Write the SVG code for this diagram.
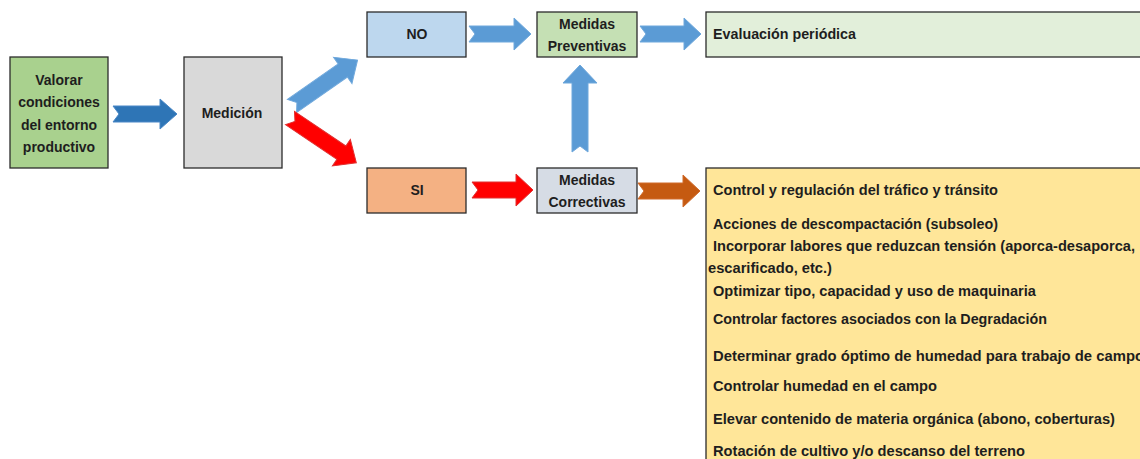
<svg xmlns="http://www.w3.org/2000/svg" width="1140" height="459" viewBox="0 0 1140 459">
<style>
.box{stroke:#2b2b2b;stroke-width:1.3}
.t{font-family:"Liberation Sans",Arial,sans-serif;font-weight:bold;font-size:14px;fill:#1e1e1e}
.c{text-anchor:middle}
.ab{fill:#5b9bd5;stroke:#6fa8dc;stroke-width:1}
.ad{fill:#2e75b6;stroke:#4a88c7;stroke-width:1}
.ar{fill:#ff0000;stroke:#e03030;stroke-width:1}
.ao{fill:#c55a11;stroke:#d06a2a;stroke-width:1}
</style>
<defs>
<polygon id="diag" points="0,-8 62,-8 62,-16 80,0 62,16 62,8 0,8 6,0"/>
</defs>
<rect width="1140" height="459" fill="#ffffff"/>
<g id="connectors">
<polygon class="ad" points="113,106 160,106 160,99 177,114 160,129 160,122 113,122 119,114"/>
<use href="#diag" class="ab" transform="translate(292,106) rotate(-35)"/>
<use href="#diag" class="ar" transform="translate(290,118) rotate(34)"/>
<polygon class="ab" points="469,26 514,26 514,18 531,34 514,50 514,42 469,42 475,34"/>
<polygon class="ab" points="640,26 684,26 684,18 701,34 684,50 684,42 640,42 646,34"/>
<polygon class="ar" points="472,182 516,182 516,174 533,190 516,206 516,198 472,198 478,190"/>
<polygon class="ao" points="638,183 683,183 683,175 700,191 683,207 683,199 638,199 644,191"/>
<polygon class="ab" points="572,152 572,83 563,83 580,65 597,83 588,83 588,152 580,146"/>
</g>
<g id="valorar">
<rect class="box" x="10" y="57" width="98" height="111" fill="#a9d18e"/>
<text class="t c" x="59" y="85">Valorar</text>
<text class="t c" x="59" y="107">condiciones</text>
<text class="t c" x="59" y="130">del entorno</text>
<text class="t c" x="59" y="152">productivo</text>
</g>
<g id="medicion">
<rect class="box" x="184" y="57" width="98" height="111" fill="#d9d9d9"/>
<text class="t c" x="232" y="118">Medición</text>
</g>
<g id="no">
<rect class="box" x="367" y="12" width="99" height="45" fill="#bdd7ee"/>
<text class="t c" x="417" y="39">NO</text>
</g>
<g id="preventivas">
<rect class="box" x="537" y="12" width="100" height="45" fill="#c5e0b4"/>
<text class="t c" x="587" y="29">Medidas</text>
<text class="t c" x="587" y="51">Preventivas</text>
</g>
<g id="evaluacion">
<rect class="box" x="706" y="12" width="450" height="45" fill="#e2efda"/>
<text class="t" x="713" y="39" textLength="143" lengthAdjust="spacingAndGlyphs">Evaluación periódica</text>
</g>
<g id="si">
<rect class="box" x="367" y="168" width="99" height="45" fill="#f4b183"/>
<text class="t c" x="417" y="195">SI</text>
</g>
<g id="correctivas">
<rect class="box" x="537" y="168" width="100" height="45" fill="#d6dce5"/>
<text class="t c" x="587" y="185">Medidas</text>
<text class="t c" x="587" y="207">Correctivas</text>
</g>
<g id="acciones">
<rect class="box" x="706" y="168" width="450" height="300" fill="#ffe699"/>
<text class="t" x="713" y="195" textLength="285" lengthAdjust="spacingAndGlyphs">Control y regulación del tráfico y tránsito</text>
<text class="t" x="713" y="229" textLength="285" lengthAdjust="spacingAndGlyphs">Acciones de descompactación (subsoleo)</text>
<text class="t" x="713" y="251" textLength="422" lengthAdjust="spacingAndGlyphs">Incorporar labores que reduzcan tensión (aporca-desaporca,</text>
<text class="t" x="708" y="273" textLength="124" lengthAdjust="spacingAndGlyphs">escarificado, etc.)</text>
<text class="t" x="713" y="296" textLength="323" lengthAdjust="spacingAndGlyphs">Optimizar tipo, capacidad y uso de maquinaria</text>
<text class="t" x="713" y="324" textLength="334" lengthAdjust="spacingAndGlyphs">Controlar factores asociados con la Degradación</text>
<text class="t" x="713" y="361" textLength="431" lengthAdjust="spacingAndGlyphs">Determinar grado óptimo de humedad para trabajo de campo</text>
<text class="t" x="713" y="391" textLength="224" lengthAdjust="spacingAndGlyphs">Controlar humedad en el campo</text>
<text class="t" x="713" y="424" textLength="402" lengthAdjust="spacingAndGlyphs">Elevar contenido de materia orgánica (abono, coberturas)</text>
<text class="t" x="713" y="456" textLength="312" lengthAdjust="spacingAndGlyphs">Rotación de cultivo y/o descanso del terreno</text>
</g>
</svg>
